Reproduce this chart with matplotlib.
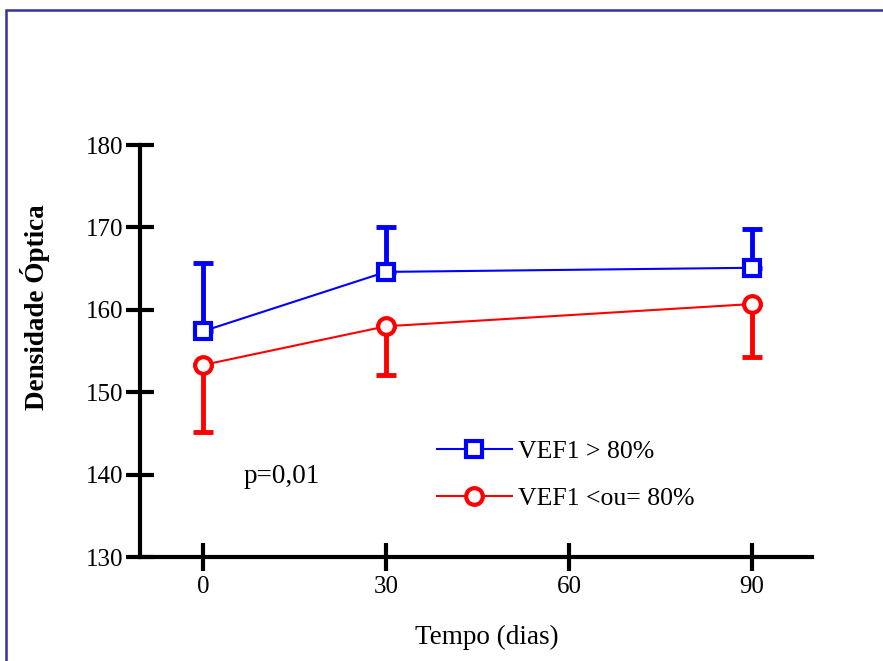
import matplotlib.pyplot as plt
from matplotlib.patches import Rectangle

# data
dias = [0, 30, 90]
acima_media = [157.4, 164.6, 165.1]
acima_sd = [8.3, 5.4, 4.7]
abaixo_media = [153.3, 158.0, 160.7]
abaixo_sd = [8.1, 5.9, 6.4]

x_ticks = [0, 30, 60, 90]
y_ticks = [130, 140, 150, 160, 170, 180]

plt.rcParams['font.family'] = ['Liberation Serif', 'DejaVu Serif']

fig = plt.figure(figsize=(8.83, 6.61), dpi=100)
ax = fig.add_axes([140 / 883, 1 - 557 / 661, 672 / 883, 412 / 661])

# frame around the figure (only top and left visible)
fig.patches.append(Rectangle((6 / 883, -0.1), 1.2, 1.1 - 10 / 661,
                             transform=fig.transFigure, fill=False,
                             edgecolor='#33339a', linewidth=1.8))

# error bars: blue upward only, red downward only
ax.errorbar(dias, acima_media, yerr=[[0] * 3, acima_sd], fmt='none',
            ecolor='#0000ff', elinewidth=3.5, capsize=7, capthick=3.5, zorder=2)
ax.errorbar(dias, abaixo_media, yerr=[abaixo_sd, [0] * 3], fmt='none',
            ecolor='#ff0000', elinewidth=3.5, capsize=7, capthick=3.5, zorder=2)

l1, = ax.plot(dias, acima_media, color='#0000ff', lw=1.5, marker='s',
              markersize=11, markeredgewidth=3, markerfacecolor='white',
              zorder=3, label='VEF1 > 80%')
l2, = ax.plot(dias, abaixo_media, color='#ff0000', lw=1.5, marker='o',
              markersize=12, markeredgewidth=3, markerfacecolor='white',
              zorder=3, label='VEF1 <ou= 80%')

ax.set_xlim(-10.33, 99.84)
ax.set_ylim(130, 180)
ax.set_xticks(x_ticks)
ax.set_yticks(y_ticks)

for s in ['top', 'right']:
    ax.spines[s].set_visible(False)
for s in ['left', 'bottom']:
    ax.spines[s].set_linewidth(3)
ax.tick_params(direction='inout', length=20, width=3, labelsize=18)
ax.tick_params(axis='x', pad=4)
ax.tick_params(axis='y', pad=2)

ax.text(6.6, 139.8, 'p=0,01', fontsize=19.5, va='center', ha='left')

leg = ax.legend(handles=[l1, l2], loc='upper left',
                bbox_to_anchor=(437 / 883, 1 - 440 / 661),
                bbox_transform=fig.transFigure, frameon=False, fontsize=18.5,
                handlelength=2.9, handletextpad=0.25, labelspacing=0.95,
                borderpad=0, borderaxespad=0)

fig.text(35 / 883, 1 - 307 / 661, 'Densidade Óptica', rotation=90,
         fontsize=19.5, fontweight='bold', ha='center', va='center')
fig.text(487 / 883, 1 - 637 / 661, 'Tempo (dias)', fontsize=19.5,
         ha='center', va='center')

fig.savefig('out.png', dpi=100)
